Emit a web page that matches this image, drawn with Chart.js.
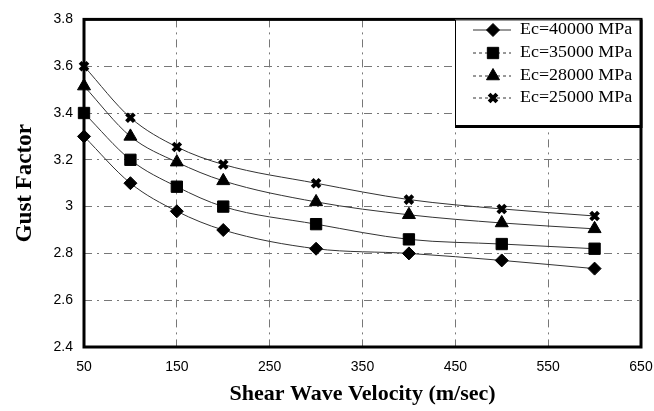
<!DOCTYPE html>
<html>
<head>
<meta charset="utf-8">
<script src="https://cdn.jsdelivr.net/npm/chart.js@4/dist/chart.umd.min.js"></script>
<style>
html,body{margin:0;padding:0;background:#fff;}
#wrap{width:654px;height:411px;position:relative;}
</style>
</head>
<body>
<div id="wrap"><canvas id="c"></canvas></div>
<script>
const xValues = [50, 100, 150, 200, 300, 400, 500, 600];
const ec40000 = [3.30, 3.10, 2.98, 2.90, 2.82, 2.80, 2.77, 2.735];
const ec35000 = [3.40, 3.20, 3.085, 3.00, 2.925, 2.86, 2.84, 2.82];
const ec28000 = [3.515, 3.30, 3.19, 3.11, 3.02, 2.965, 2.93, 2.905];
const ec25000 = [3.60, 3.38, 3.255, 3.18, 3.10, 3.03, 2.99, 2.96];
const seriesLabels = ['Ec=40000 MPa', 'Ec=35000 MPa', 'Ec=28000 MPa', 'Ec=25000 MPa'];
const yTickLabels = {'2.4':'2.4','2.6':'2.6','2.8':'2.8','3':'3','3.2':'3.2','3.4':'3.4','3.6':'3.6','3.8':'3.8'};
const xTickLabels = ['50','150','250','350','450','550','650'];

const pts = arr => xValues.map((x, i) => ({x: x, y: arr[i]}));
const styles = [
  {pointStyle:'rectRot', radius:6.5, bw:1},
  {pointStyle:'rect', radius:8, bw:1},
  {pointStyle:'triangle', radius:7.5, bw:1},
  {pointStyle:'crossRot', radius:5.5, bw:4}
];
const allSeries = [ec40000, ec35000, ec28000, ec25000];
const datasets = allSeries.map((arr, i) => ({
  label: seriesLabels[i],
  data: pts(arr),
  borderColor: '#333',
  borderWidth: 1,
  backgroundColor: '#000',
  pointBackgroundColor: '#000',
  pointBorderColor: '#000',
  pointBorderWidth: styles[i].bw,
  pointStyle: styles[i].pointStyle,
  pointRadius: styles[i].radius,
  pointHoverRadius: styles[i].radius,
  cubicInterpolationMode: 'monotone',
  tension: 0.4,
  clip: false,
  fill: false
}));

const framePlugin = {
  id: 'frame',
  beforeDatasetsDraw(chart) {
    const {ctx, chartArea: a} = chart;
    ctx.save();
    ctx.strokeStyle = '#000';
    ctx.lineWidth = 3;
    ctx.strokeRect(a.left, a.top, a.right - a.left, a.bottom - a.top);
    ctx.restore();
  }
};

const legendPlugin = {
  id: 'boxLegend',
  afterDraw(chart) {
    const {ctx, chartArea: a} = chart;
    const w = 186, h = 107;
    const x0 = a.right - w, y0 = a.top;
    ctx.save();
    ctx.fillStyle = '#fff';
    ctx.fillRect(x0, y0, w, h);
    ctx.strokeStyle = '#000';
    ctx.lineWidth = 1;
    ctx.strokeRect(x0 + 0.5, y0 + 0.5, w - 1, h - 1);
    ctx.lineWidth = 3;
    ctx.beginPath();
    ctx.moveTo(a.right, y0);
    ctx.lineTo(a.right, y0 + h);
    ctx.lineTo(x0, y0 + h);
    ctx.stroke();
    const rowY = [30, 53, 76, 98];
    chart.data.datasets.forEach((ds, i) => {
      const y = rowY[i];
      const mx = x0 + 38;
      ctx.strokeStyle = '#333';
      ctx.lineWidth = 1;
      if (i > 0) ctx.setLineDash([3, 3]); else ctx.setLineDash([]);
      ctx.beginPath();
      ctx.moveTo(x0 + 18, y);
      ctx.lineTo(x0 + 56, y);
      ctx.stroke();
      ctx.setLineDash([]);
      ctx.fillStyle = '#000';
      ctx.strokeStyle = '#000';
      ctx.lineWidth = styles[i].bw;
      Chart.helpers.drawPoint(ctx, {pointStyle: styles[i].pointStyle, radius: styles[i].radius, rotation: 0, borderWidth: styles[i].bw}, mx, y);
      ctx.fillStyle = '#000';
      ctx.font = '16px "Liberation Serif", "Times New Roman", serif';
      ctx.textBaseline = 'middle';
      ctx.textAlign = 'left';
      ctx.save();
      ctx.translate(x0 + 65, y);
      ctx.scale(1.12, 1);
      ctx.fillText(ds.label, 0, 0);
      ctx.restore();
    });
    ctx.restore();
  }
};

new Chart(document.getElementById('c'), {
  type: 'line',
  data: { datasets },
  options: {
    responsive: true,
    maintainAspectRatio: false,
    animation: false,
    events: [],
    layout: { padding: { left: 0, right: 0, top: 18, bottom: 0 } },
    plugins: { legend: { display: false }, tooltip: { enabled: false } },
    scales: {
      x: {
        type: 'linear',
        min: 50, max: 650,
        afterFit(s) { s.height = 64; s.paddingRight = 13; s.paddingLeft = 0; },
        ticks: {
          stepSize: 100,
          padding: 12,
          color: '#000',
          font: { family: '"Liberation Sans", Arial, sans-serif', size: 14 },
          maxRotation: 0,
          callback: (v) => xTickLabels[Math.round((v - 50) / 100)]
        },
        grid: { color: '#777', lineWidth: 1, drawTicks: false },
        border: { display: false, dash: [8, 5, 2, 5] },
        title: {
          display: true,
          text: 'Shear Wave Velocity (m/sec)',
          color: '#000',
          font: { family: '"Liberation Serif", "Times New Roman", serif', size: 22, weight: 'bold' },
          padding: { top: 0, bottom: 3 }
        }
      },
      y: {
        min: 2.4, max: 3.8,
        afterFit(s) { s.width = 84; },
        ticks: {
          stepSize: 0.2,
          padding: 11,
          color: '#000',
          font: { family: '"Liberation Sans", Arial, sans-serif', size: 14 },
          callback: (v) => yTickLabels[String(Math.round(v * 10) / 10)]
        },
        grid: { color: '#777', lineWidth: 1, drawTicks: false },
        border: { display: false, dash: [8, 5, 2, 5] },
        title: {
          display: true,
          text: 'Gust Factor',
          color: '#000',
          font: { family: '"Liberation Serif", "Times New Roman", serif', size: 23, weight: 'bold' },
          padding: { top: 11, bottom: 0 }
        }
      }
    }
  },
  plugins: [framePlugin, legendPlugin]
});
</script>
</body>
</html>
